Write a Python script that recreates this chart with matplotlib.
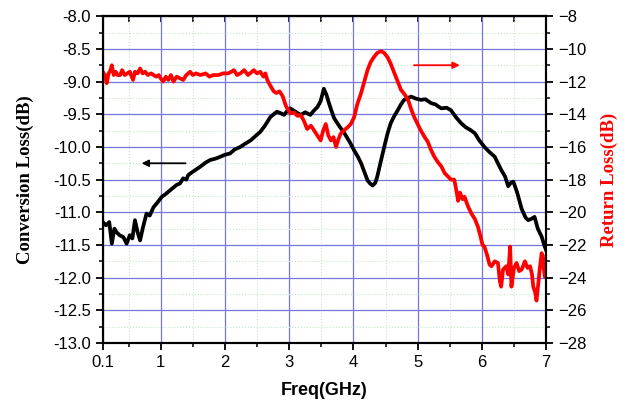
import matplotlib
matplotlib.use("Agg")
import matplotlib.pyplot as plt
from matplotlib.ticker import MultipleLocator, FixedLocator

# conversion loss (left axis)
conv_freq = [0.1, 0.15, 0.2, 0.24, 0.28, 0.31, 0.36, 0.42, 0.47, 0.52, 0.56, 0.6, 0.64, 0.68,
             0.72, 0.78, 0.83, 0.89, 0.95, 1.02, 1.08, 1.15, 1.2, 1.25, 1.3, 1.35, 1.4, 1.43,
             1.5, 1.56, 1.62, 1.7, 1.77, 1.85, 1.93, 2.0, 2.08, 2.15, 2.24, 2.3, 2.4, 2.48,
             2.55, 2.62, 2.71, 2.76, 2.81, 2.86, 2.92, 2.97, 3.02, 3.08, 3.13, 3.18, 3.25,
             3.33, 3.38, 3.44, 3.49, 3.54, 3.58, 3.62, 3.66, 3.7, 3.78, 3.86, 3.94, 4.01,
             4.07, 4.12, 4.17, 4.22, 4.26, 4.3, 4.34, 4.37, 4.42, 4.48, 4.53, 4.58, 4.64,
             4.69, 4.74, 4.79, 4.85, 4.9, 4.97, 5.05, 5.12, 5.21, 5.28, 5.32, 5.37, 5.45,
             5.52, 5.6, 5.68, 5.75, 5.82, 5.89, 5.96, 6.04, 6.12, 6.2, 6.25, 6.3, 6.36,
             6.41, 6.45, 6.49, 6.55, 6.62, 6.68, 6.72, 6.77, 6.82, 6.87, 6.93, 6.97, 7.0]
conv_loss = [-11.15, -11.2, -11.15, -11.48, -11.25, -11.3, -11.35, -11.38, -11.48, -11.35,
             -11.4, -11.12, -11.3, -11.43, -11.25, -11.02, -11.05, -10.92, -10.85, -10.76,
             -10.72, -10.66, -10.62, -10.58, -10.56, -10.48, -10.5, -10.43, -10.38, -10.34,
             -10.3, -10.24, -10.2, -10.18, -10.15, -10.12, -10.1, -10.04, -10.0, -9.96,
             -9.9, -9.83, -9.77, -9.68, -9.54, -9.5, -9.46, -9.48, -9.51, -9.45, -9.41,
             -9.45, -9.48, -9.51, -9.47, -9.51, -9.45, -9.39, -9.3, -9.11, -9.2, -9.33,
             -9.45, -9.56, -9.68, -9.79, -9.92, -10.05, -10.15, -10.25, -10.38, -10.51,
             -10.56, -10.59, -10.55, -10.46, -10.25, -10.0, -9.8, -9.64, -9.52, -9.44,
             -9.35, -9.28, -9.25, -9.23, -9.26, -9.28, -9.27, -9.33, -9.35, -9.38, -9.41,
             -9.4, -9.44, -9.55, -9.64, -9.7, -9.74, -9.79, -9.9, -10.0, -10.08, -10.15,
             -10.25, -10.35, -10.45, -10.6, -10.55, -10.53, -10.7, -10.95, -11.08, -11.12,
             -11.1, -11.07, -11.25, -11.37, -11.5, -11.58]

# return loss (right axis)
ret_freq = [0.1, 0.13, 0.16, 0.19, 0.22, 0.24, 0.27, 0.3, 0.33, 0.37, 0.4, 0.44, 0.48, 0.52,
            0.57, 0.6, 0.64, 0.68, 0.72, 0.76, 0.8, 0.85, 0.89, 0.93, 0.97, 1.0, 1.04, 1.08,
            1.12, 1.16, 1.2, 1.25, 1.3, 1.35, 1.4, 1.46, 1.5, 1.55, 1.62, 1.7, 1.76, 1.82,
            1.9, 1.97, 2.05, 2.1, 2.14, 2.19, 2.24, 2.3, 2.36, 2.42, 2.45, 2.5, 2.55, 2.6,
            2.63, 2.66, 2.7, 2.76, 2.8, 2.85, 2.9, 2.95, 3.02, 3.08, 3.13, 3.18, 3.23, 3.28,
            3.34, 3.39, 3.44, 3.49, 3.53, 3.57, 3.61, 3.65, 3.69, 3.73, 3.77, 3.8, 3.85,
            3.91, 3.96, 4.01, 4.06, 4.12, 4.17, 4.22, 4.27, 4.32, 4.37, 4.43, 4.48, 4.53,
            4.58, 4.64, 4.69, 4.74, 4.8, 4.85, 4.9, 4.95, 5.0, 5.05, 5.11, 5.16, 5.21,
            5.26, 5.31, 5.37, 5.42, 5.47, 5.52, 5.57, 5.6, 5.63, 5.66, 5.7, 5.73, 5.78,
            5.84, 5.89, 5.94, 5.98, 6.01, 6.04, 6.08, 6.12, 6.15, 6.2, 6.25, 6.28, 6.3,
            6.33, 6.38, 6.41, 6.44, 6.46, 6.5, 6.54, 6.58, 6.62, 6.67, 6.71, 6.75, 6.78,
            6.8, 6.83, 6.85, 6.88, 6.9, 6.93, 6.95, 6.98, 7.0]
ret_loss = [-11.4, -11.6, -12.1, -11.5, -11.3, -11.0, -11.6, -11.4, -11.6, -11.6, -11.3,
            -11.6, -11.5, -11.4, -11.9, -11.4, -11.5, -11.2, -11.5, -11.4, -11.6, -11.5,
            -11.6, -11.7, -11.6, -11.8, -12.0, -11.7, -11.9, -11.6, -12.0, -11.7, -11.8,
            -11.9, -11.6, -11.4, -11.6, -11.5, -11.6, -11.5, -11.7, -11.6, -11.6, -11.5,
            -11.5, -11.4, -11.3, -11.6, -11.5, -11.3, -11.6, -11.4, -11.3, -11.5, -11.4,
            -11.7, -11.5, -11.9, -12.2, -12.6, -12.7, -12.6, -12.9, -13.5, -13.95, -13.9,
            -14.1, -14.05, -14.4, -14.9, -14.7, -15.0, -15.3, -15.6, -15.0, -14.6, -15.3,
            -15.6, -15.4, -16.0, -15.5, -15.2, -15.0, -14.8, -14.6, -14.2, -13.4, -12.7,
            -12.0, -11.3, -10.8, -10.5, -10.25, -10.14, -10.25, -10.5, -10.9, -11.5, -12.0,
            -12.5, -12.8, -13.1, -13.7, -14.2, -14.6, -15.0, -15.4, -15.7, -16.2, -16.6,
            -16.9, -17.2, -17.6, -17.8, -18.0, -18.0, -18.6, -19.3, -18.8, -19.2, -19.05,
            -19.6, -20.1, -20.4, -20.9, -21.5, -22.0, -22.1, -22.6, -23.2, -23.3, -23.0,
            -23.1, -24.2, -24.55, -23.5, -23.3, -23.8, -22.1, -24.55, -23.4, -23.1, -23.6,
            -23.5, -23.0, -23.4, -23.3, -23.8, -24.55, -24.9, -25.4, -24.3, -23.5, -22.5,
            -23.0, -23.95, -22.7]

xticks = [0.1, 1, 2, 3, 4, 5, 6, 7]
xtick_labels = ["0.1", "1", "2", "3", "4", "5", "6", "7"]
xminor = [0.5, 1.5, 2.5, 3.5, 4.5, 5.5, 6.5]

plt.rcParams['font.family'] = ['Liberation Sans', 'DejaVu Sans']

fig = plt.figure(figsize=(6.27, 4.05), dpi=100)
ax = fig.add_axes([0.164, 0.153, 0.707, 0.807])
ax2 = ax.twinx()

# grid: blue majors, faint green dotted minors
ax.set_axisbelow(True)
ax.grid(which='major', color='#7676dc', lw=0.9)
ax.grid(which='minor', color='#c6e6c6', lw=0.8, ls=':')

ax.plot(conv_freq, conv_loss, color='black', lw=2.7, zorder=3)
ax2.plot(ret_freq, ret_loss, color='#ff0000', lw=2.7)

ax.set_xlim(0.1, 7)
ax.set_ylim(-13, -8)
ax2.set_ylim(-28, -8)

ax.xaxis.set_major_locator(FixedLocator(xticks))
ax.set_xticklabels(xtick_labels)
ax.xaxis.set_minor_locator(FixedLocator(xminor))
ax.yaxis.set_major_locator(MultipleLocator(0.5))
ax.yaxis.set_minor_locator(MultipleLocator(0.25))
ax.yaxis.set_major_formatter(matplotlib.ticker.FormatStrFormatter('%.1f'))
ax2.yaxis.set_major_locator(MultipleLocator(2))
ax2.yaxis.set_minor_locator(MultipleLocator(1))

for a in (ax, ax2):
    for s in a.spines.values():
        s.set_linewidth(1.5)
    a.tick_params(which='major', length=5, width=1.3, labelsize=12, direction='out')
    a.tick_params(which='minor', length=3, width=1.1, direction='out')

top = ax.secondary_xaxis('top')
top.xaxis.set_major_locator(FixedLocator(xticks))
top.xaxis.set_minor_locator(FixedLocator(xminor))
top.tick_params(which='both', direction='in', length=4, width=1.2, labeltop=False)
top.spines['top'].set_linewidth(1.5)

ax.set_xlabel('Freq(GHz)', fontsize=13, fontweight='bold', labelpad=9)
ax.set_ylabel('Conversion Loss(dB)', fontsize=13.5, fontweight='bold',
              family='Liberation Serif', labelpad=14)
ax2.set_ylabel('Return Loss(dB)', fontsize=13.5, fontweight='bold',
               family='Liberation Serif', color='#ff0000', labelpad=10)

# direction arrows
ax.annotate('', xy=(0.66, -10.25), xytext=(1.43, -10.25),
            arrowprops=dict(arrowstyle='-|>', color='black', lw=1.3, mutation_scale=10))
ax2.annotate('', xy=(5.7, -11.0), xytext=(4.9, -11.0),
             arrowprops=dict(arrowstyle='-|>', color='#ff0000', lw=1.3, mutation_scale=10))

fig.savefig('out.png', dpi=100)
